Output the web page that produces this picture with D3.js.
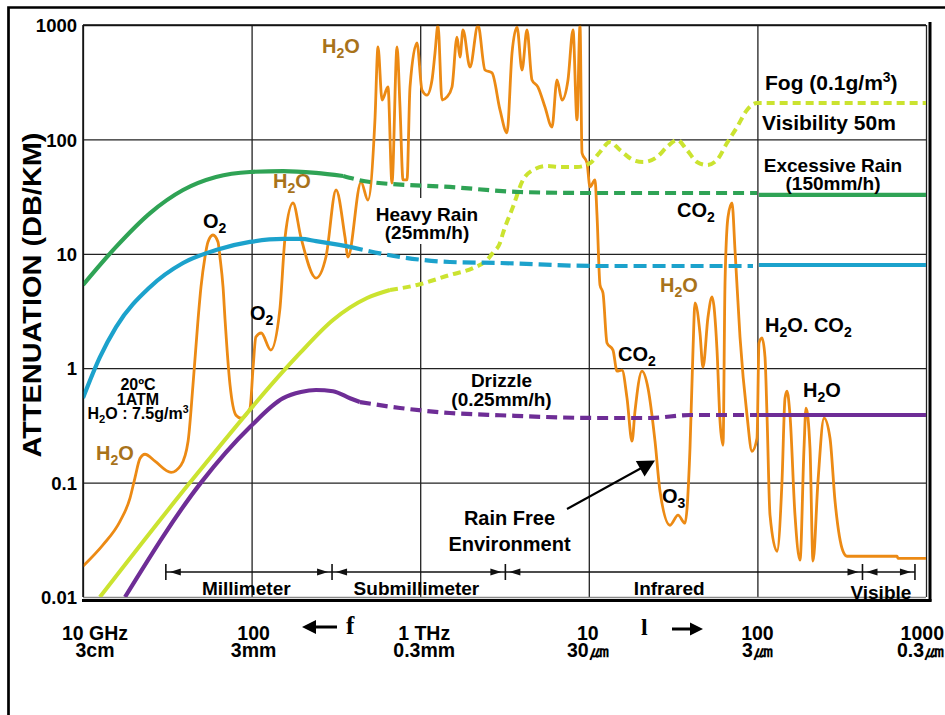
<!DOCTYPE html>
<html><head><meta charset="utf-8">
<script src="https://cdn.jsdelivr.net/npm/d3@7/dist/d3.min.js"></script>
<style>
body{margin:0;background:#fff;}
svg text{font-family:"Liberation Sans",Arial,sans-serif;font-weight:bold;fill:#000;}
</style></head><body>
<svg id="c" width="945" height="715"></svg>
<script>
// ---------------- DATA ----------------
// frequency in GHz, attenuation in dB/km
const xTicks = [10, 100, 1000, 10000, 100000, 1000000];
const xTickTop = ["10 GHz", "100", "1 THz", "10", "100", "1000"];
const xTickBottom = ["3cm", "3mm", "0.3mm", "30㎛", "3㎛", "0.3㎛"];
const yTicks = [0.01, 0.1, 1, 10, 100, 1000];
const yTickLabels = ["0.01", "0.1", "1", "10", "100", "1000"];

const gasAbsorption = [
[10,0.0186],[13.1,0.0284],[16.6,0.046],[19.0,0.0731],[20.3,0.109],[21.8,0.163],[23.3,0.177],[26.7,0.154],
[33.3,0.123],[38.1,0.142],[42.0,0.23],[44.9,0.71],[48.1,2.64],[50.1,5.13],[52.9,9.38],[55.1,12.7],[59.0,14.6],
[63.2,12.7],[64.9,9.38],[67.7,5.13],[69.6,2.64],[74.5,0.71],[80.8,0.388],[86.5,0.366],[97.8,0.447],[102,1.0],
[106,1.87],[114,2.03],[130,1.44],[147,3.23],[158,14.0],[176,27.8],[196,14.0],[241,6.14],[276,9.38],[317,36.1],
[358,14.0],[373,9.38],[446,42.4],[490,29.5],[539,148],[562,642],[594,221],[644,287],[680,41.6],[729,642],
[759,192],[791,44.2],[835,44.2],[870,287],[957,696],[1025,270],[1097,244],[1175,331],[1224,569],[1275,1000],
[1347,221],[1442,235],[1544,287],[1653,785],[1722,525],[1794,904],[1974,429],[2202,1000],[2423,404],[2667,381],
[2974,181],[3272,114],[3504,569],[3752,960],[4016,404],[4299,904],[4604,331],[4995,287],[5497,192],[6048,128],
[6477,331],[6935,221],[7525,331],[8060,904],[8511,148],[8868,1000],[9114,76.1],[9756,62.2],[10165,38.4],
[10884,44.2],[11186,21.8],[11653,5.34],[12141,4.54],[12823,1.66],[13914,1.44],[14700,0.942],[15740,0.961],
[16853,0.547],[18045,0.23],[18793,0.421],[20678,0.942],[22450,0.669],[24701,0.23],[26448,0.0841],[30312,0.0424],
[33817,0.0519],[37205,0.0442],[39830,0.2],[41494,1.44],[42646,3.72],[45647,2.03],[47556,1.02],[50933,2.8],
[53792,4.19],[57608,1.44],[60017,0.344],[62526,0.212],[64257,5.56],[66940,21.0],[70700,27.8],[73650,10.8],
[78857,1.87],[86770,0.388],[92891,0.188],[99450,0.244],[102210,1.66],[106491,1.84],[110947,1.25],[114029,0.388],
[118802,0.0519],[130700,0.0251],[139955,0.103],[145800,0.547],[149835,0.629],[156100,0.388],[167110,0.0519],
[178900,0.021],[189000,0.2],[194200,0.447],[205100,0.2],[213700,0.0206],[228800,0.103],[248400,0.366],
[269600,0.244],[288700,0.0688],[321900,0.0251],[340000,0.0227],[673000,0.0227],[682300,0.0218],[1000000,0.0218]
];

const excessiveRainSolid = [[10,5.34],[15.7,11.5],[25,22.7],[39.2,36.1],[61.5,46.9],[97.8,51.9],[154,52.9],[241,50.9],[349,47.9]];
const excessiveRainDashed = [[349,47.9],[504,42.4],[1500,38.4],[3910,34.7],[10200,34.0],[99500,34.0]];
const excessiveRainVisible = [[102000,32.7],[1000000,32.7]];

const heavyRainSolid = [[10,0.549],[12.6,1.25],[15.7,2.29],[25,5.13],[39.2,8.31],[61.5,10.8],[97.8,12.7],[154,13.5],[196,13.5],[241,12.9],[383,11.5]];
const heavyRainDashed = [[383,11.5],[759,9.38],[1500,8.48],[2970,8.31],[11650,7.82],[94200,7.82]];
const heavyRainVisible = [[102000,7.98],[1000000,7.98]];

const drizzleSolid = [[17.75,0.01],[50.1,0.1],[97.8,0.306],[154,0.547],[196,0.619],[241,0.645],[304,0.629],[383,0.547],[439,0.506]];
const drizzleDashed = [[439,0.506],[759,0.449],[1500,0.406],[2970,0.388],[11650,0.367],[23070,0.367],[39830,0.39],[99450,0.39]];
const drizzleVisible = [[102000,0.39],[1000000,0.39]];

const fogSolid = [[12.6,0.01],[43.1,0.1],[160,1.0],[194,1.36],[304,2.64],[484,4.11],[662,4.83]];
const fogDashed = [[662,4.83],[957,5.34],[1500,6.53],[2060,7.51],[2490,8.83],[2700,10.2],[2970,12.4],[3100,15.2],
[3550,25.7],[4070,44.2],[4670,54.0],[5650,58.5],[6750,57.4],[8510,57.4],[10200,62.2],[11650,77.6],[13360,94.9],
[15300,80.8],[18300,66.1],[21000,63.4],[25400,70.2],[29100,85.8],[33400,98.8],[38200,80.8],[43800,63.4],
[50200,59.7],[57600,66.1],[66000,93.0],[75700,128],[86800,181],[99450,208],[1000000,208]];

const bandEdges = [31, 300, 3200, 420000, 860000];
const bandNames = ["Millimeter", "Submillimeter", "Infrared", "Visible"];
const bandLabelFreq = [93, 950, 30000, 540000];

// ---------------- LAYOUT ----------------
const W = 945, H = 715;
const m = {left: 83, right: 926, top: 25, bottom: 597};
const x = d3.scaleLog().domain([10, 1e6]).range([m.left, m.right]);
const y = d3.scaleLog().domain([0.01, 1000]).range([m.bottom, m.top]);
const svg = d3.select('#c');
const BROWN = '#A8731A';

svg.append('rect').attr('width', W).attr('height', H).attr('fill', '#fff');
svg.append('path').attr('d', 'M8.5,715 V7.5 H945').attr('fill', 'none').attr('stroke', '#000').attr('stroke-width', 2.7);

// grid lines (through axes)
const gx = svg.append('g').attr('transform', `translate(0,${m.bottom})`)
  .call(d3.axisBottom(x).tickValues(xTicks).tickSize(-(m.bottom - m.top)).tickFormat(''));
gx.select('.domain').remove();
gx.selectAll('line').attr('stroke', '#222').attr('stroke-width', 1.3);
const gy = svg.append('g').attr('transform', `translate(${m.left},0)`)
  .call(d3.axisLeft(y).tickValues(yTicks).tickSize(-(m.right - m.left)).tickFormat(''));
gy.select('.domain').remove();
gy.selectAll('line').attr('stroke', d => d === 0.01 ? '#888' : '#222').attr('stroke-width', 1.3);

// y tick labels
const yl = svg.append('g').attr('transform', `translate(${m.left},0)`)
  .call(d3.axisLeft(y).tickValues(yTicks).tickSize(0).tickPadding(6).tickFormat((d, i) => yTickLabels[i]));
yl.select('.domain').remove();
yl.selectAll('text').attr('font-size', 18.5).attr('font-family', '"Liberation Sans",Arial,sans-serif')
  .attr('font-weight', 'bold').attr('fill', '#000').attr('dy', '0.36em');

// knock-out box behind "Heavy Rain"
svg.append('rect').attr('x', 376).attr('y', 198).attr('width', 106).attr('height', 46).attr('fill', '#fff');

// band ranges
const bandY = 572;
const bl = svg.append('g');
bl.append('line').attr('x1', x(bandEdges[0])).attr('x2', x(bandEdges[bandEdges.length - 1]))
  .attr('y1', bandY).attr('y2', bandY).attr('stroke', '#111').attr('stroke-width', 1.3);
bandEdges.forEach((b, i) => {
  const px = x(b);
  bl.append('line').attr('x1', px).attr('x2', px).attr('y1', bandY - 8).attr('y2', bandY + 8)
    .attr('stroke', '#111').attr('stroke-width', 1.6);
  if (i > 0) bl.append('path').attr('d', `M${px - 4},${bandY} l-11,-3.5 v7 z`).attr('fill', '#111');
  if (i < bandEdges.length - 1) bl.append('path').attr('d', `M${px + 4},${bandY} l11,-3.5 v7 z`).attr('fill', '#111');
});

// curves
svg.append('clipPath').attr('id', 'pc').append('rect')
  .attr('x', m.left).attr('y', m.top - 1).attr('width', m.right - m.left).attr('height', m.bottom - m.top + 1);
const plot = svg.append('g').attr('clip-path', 'url(#pc)');
const line = d3.line().x(d => x(d[0])).y(d => y(d[1])).curve(d3.curveMonotoneX);
function draw(data, color, width, dash) {
  plot.append('path').datum(data).attr('d', line).attr('fill', 'none')
    .attr('stroke', color).attr('stroke-width', width)
    .attr('stroke-dasharray', dash || null).attr('stroke-linejoin', 'round');
}
const GAS = '#EC8A14', GREEN = '#2FA355', CYAN = '#1CA2CC', PURPLE = '#6E2D96', FOG = '#CBE330';
draw(gasAbsorption, GAS, 2.8);
draw(fogSolid, FOG, 4);
draw(fogDashed, FOG, 4, '8,5');
draw(drizzleSolid, PURPLE, 4.2);
draw(drizzleDashed, PURPLE, 4.2, '11,6');
draw(drizzleVisible, PURPLE, 4.2);
draw(heavyRainSolid, CYAN, 4.2);
draw(heavyRainDashed, CYAN, 4.2, '13,6');
draw(heavyRainVisible, CYAN, 4.2);
draw(excessiveRainSolid, GREEN, 4.2);
draw(excessiveRainDashed, GREEN, 4.2, '11,6');
draw(excessiveRainVisible, GREEN, 4.2);

// plot frame
svg.append('line').attr('x1', m.left).attr('x2', m.right).attr('y1', m.top).attr('y2', m.top).attr('stroke', '#111').attr('stroke-width', 1.5);
svg.append('line').attr('x1', m.left).attr('x2', m.left).attr('y1', m.top).attr('y2', m.bottom).attr('stroke', '#111').attr('stroke-width', 1.5);
svg.append('line').attr('x1', 930).attr('x2', 930).attr('y1', 22).attr('y2', 601.5).attr('stroke', '#000').attr('stroke-width', 3);
svg.append('line').attr('x1', 82).attr('x2', 931.5).attr('y1', 600.5).attr('y2', 600.5).attr('stroke', '#000').attr('stroke-width', 3);

// band labels
bandNames.forEach((n, i) => {
  svg.append('text').attr('x', x(bandLabelFreq[i])).attr('y', i === 3 ? 599 : 595)
    .attr('text-anchor', 'middle').attr('font-size', 19).text(n);
});

// rich multi-line labels: {n} subscript, ^{n} superscript, \n new line
function rich(str, px, py, size, anchor, color, gap) {
  const t = svg.append('text').attr('x', px).attr('y', py).attr('font-size', size)
    .attr('text-anchor', anchor).style('fill', color || '#000');
  let cur = 0;
  str.split('\n').forEach((ln, li) => {
    const parts = ln.split(/(\^\{[^}]*\}|\{[^}]*\})/).filter(s => s.length);
    parts.forEach((p, pi) => {
      let target = 0, fs = null, txt = p;
      if (p.startsWith('^{')) { target = -size * 0.36; fs = size * 0.66; txt = p.slice(2, -1); }
      else if (p.startsWith('{')) { target = size * 0.26; fs = size * 0.7; txt = p.slice(1, -1); }
      const ts = t.append('tspan').text(txt);
      if (li > 0 && pi === 0) ts.attr('x', px).attr('dy', gap + target - cur);
      else ts.attr('dy', target - cur);
      if (fs) ts.attr('font-size', fs);
      cur = target;
    });
  });
  return t;
}

// x tick labels (two lines)
const xOff = [12, 2, 4, -1, 0, 0];
xTicks.forEach((t, i) => {
  const last = i === xTicks.length - 1;
  rich(xTickTop[i] + '\n' + xTickBottom[i], last ? 944 : x(t) + xOff[i], 640, 19.5, last ? 'end' : 'middle', '#000', 17);
});

// frequency / wavelength arrows
svg.append('line').attr('x1', 312).attr('x2', 337).attr('y1', 627).attr('y2', 627).attr('stroke', '#000').attr('stroke-width', 3);
svg.append('path').attr('d', 'M302,627 L316,620 L316,634 Z').attr('fill', '#000');
svg.append('text').attr('x', 346).attr('y', 634).attr('font-size', 25)
  .style('font-family', '"Liberation Serif","Times New Roman",serif').text('f');
svg.append('text').attr('x', 641).attr('y', 635).attr('font-size', 24)
  .style('font-family', '"Liberation Serif","Times New Roman",serif').text('l');
svg.append('line').attr('x1', 672).attr('x2', 693).attr('y1', 629).attr('y2', 629).attr('stroke', '#000').attr('stroke-width', 3);
svg.append('path').attr('d', 'M703,629 L690,622.5 L690,635.5 Z').attr('fill', '#000');

// y title
svg.append('text').attr('transform', 'translate(41,295) rotate(-90)').attr('text-anchor', 'middle')
  .attr('font-size', 26).attr('textLength', 325).attr('lengthAdjust', 'spacingAndGlyphs')
  .text('ATTENUATION (DB/KM)');

const labels = [
  ["H{2}O", 322, 53, 20, 'start', BROWN],
  ["Fog (0.1g/m^{3})", 765, 90, 21, 'start'],
  ["Visibility 50m", 762, 130, 21, 'start'],
  ["Excessive Rain\n(150mm/h)", 833, 171.5, 19, 'middle', '#000', 18.5],
  ["H{2}O", 273, 188, 20, 'start', BROWN],
  ["O{2}", 203, 228, 20, 'start'],
  ["Heavy Rain\n(25mm/h)", 427, 221, 19, 'middle', '#000', 18],
  ["CO{2}", 677, 217, 20, 'start'],
  ["H{2}O", 660, 292, 20, 'start', BROWN],
  ["O{2}", 250, 320, 20, 'start'],
  ["H{2}O. CO{2}", 765, 332, 20, 'start'],
  ["CO{2}", 618, 361, 20, 'start'],
  ["20ºC\n1ATM\nH{2}O : 7.5g/m^{3}", 138, 390, 16, 'middle', '#000', 14.5],
  ["Drizzle\n(0.25mm/h)", 501.5, 387, 19, 'middle', '#000', 18.5],
  ["H{2}O", 803, 397, 20, 'start'],
  ["H{2}O", 96, 460, 20, 'start', BROWN],
  ["O{3}", 662, 503, 20, 'start'],
  ["Rain Free\nEnvironment", 509.5, 525, 20, 'middle', '#000', 26]
];
labels.forEach(l => rich(l[0], l[1], l[2], l[3], l[4], l[5], l[6]));

// "Rain Free Environment" pointer
svg.append('line').attr('x1', 567).attr('y1', 509).attr('x2', 645).attr('y2', 466).attr('stroke', '#000').attr('stroke-width', 2);
svg.append('path').attr('d', 'M655,460.5 L644.6,476.6 L635.8,461 Z').attr('fill', '#000');
</script>
</body></html>
